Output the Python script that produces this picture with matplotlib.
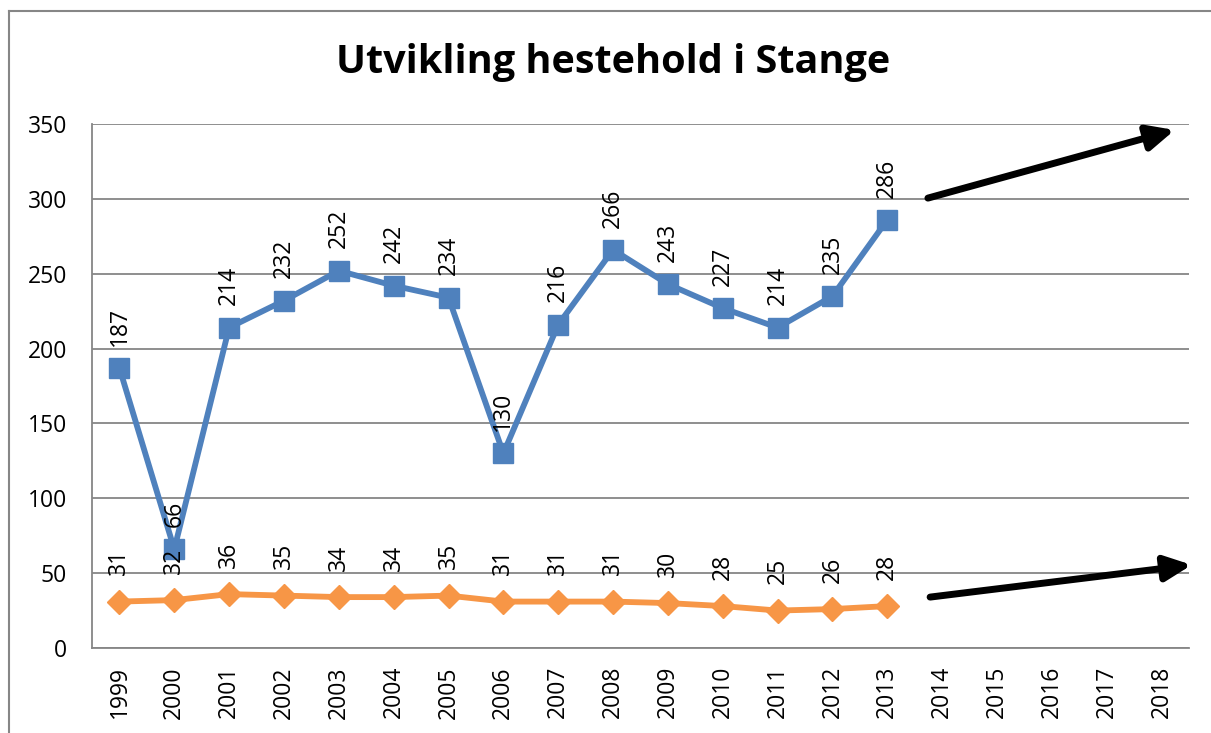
import matplotlib
matplotlib.use("Agg")
import matplotlib.pyplot as plt
from matplotlib.lines import Line2D

plt.rcParams['font.family'] = ['Open Sans', 'DejaVu Sans']

# ---> data
years = [str(y) for y in range(1999, 2019)]
horses = [187, 66, 214, 232, 252, 242, 234, 130, 216, 266, 243, 227, 214, 235, 286]
owners = [31, 32, 36, 35, 34, 34, 35, 31, 31, 31, 30, 28, 25, 26, 28]
yticks = [0, 50, 100, 150, 200, 250, 300, 350]

# trend arrows (start, end) in data units
arrow_top = [(14.74, 300.5), (19.24, 346)]
arrow_low = [(14.78, 34), (19.55, 55.5)]

blue = '#4F81BD'
orange = '#F79646'
grid = '#868686'

fig = plt.figure(figsize=(12.11, 7.33), dpi=100)
ax = fig.add_axes([92/1211, 1 - 648/733, 1097/1211, 524/733])

x = list(range(len(years)))
ax.plot(x[:len(horses)], horses, color=blue, linewidth=4.2, marker='s', markersize=14.5, zorder=3)
ax.plot(x[:len(owners)], owners, color=orange, linewidth=4.2, marker='D', markersize=12, zorder=3)

# data labels
for i, v in enumerate(horses):
    ax.annotate(str(v), (i, v), xytext=(0, 16), textcoords='offset points',
                rotation=90, ha='center', va='bottom', fontsize=16.5, zorder=4)
for i, v in enumerate(owners):
    ax.annotate(str(v), (i, v), xytext=(0, 19), textcoords='offset points',
                rotation=90, ha='center', va='bottom', fontsize=16.5, zorder=4)

ax.set_xlim(-0.5, len(years) - 0.5)
ax.set_ylim(0, 350)
ax.set_xticks(x)
ax.set_xticklabels(years, rotation=90, fontsize=16.5)
ax.set_yticks(yticks)
ax.set_yticklabels([str(t) for t in yticks], fontsize=16.5)
ax.tick_params(length=0)
ax.tick_params(axis='x', pad=13)
ax.tick_params(axis='y', pad=18)
ax.grid(axis='y', color=grid, linewidth=1.3)
ax.set_axisbelow(True)
for s in ['top', 'right']:
    ax.spines[s].set_visible(False)
for s in ['left', 'bottom']:
    ax.spines[s].set_color(grid)
    ax.spines[s].set_linewidth(1.3)

# black trend arrows
for a in [arrow_top, arrow_low]:
    ax.annotate('', xy=a[1], xytext=a[0], annotation_clip=False,
                arrowprops=dict(arrowstyle='-|>,head_length=1.6,head_width=0.75',
                                color='black', lw=5, shrinkA=0, shrinkB=0))

fig.text(613/1211, 1 - 63/733, 'Utvikling hestehold i Stange', ha='center', va='center',
         fontsize=28.5, fontweight='bold')

# chart border
fig.add_artist(Line2D([9/1211, 1], [1 - 11/733, 1 - 11/733], color=grid, lw=1.5))
fig.add_artist(Line2D([9/1211, 9/1211], [0, 1 - 11/733], color=grid, lw=1.5))

fig.savefig('out.png', dpi=100)
